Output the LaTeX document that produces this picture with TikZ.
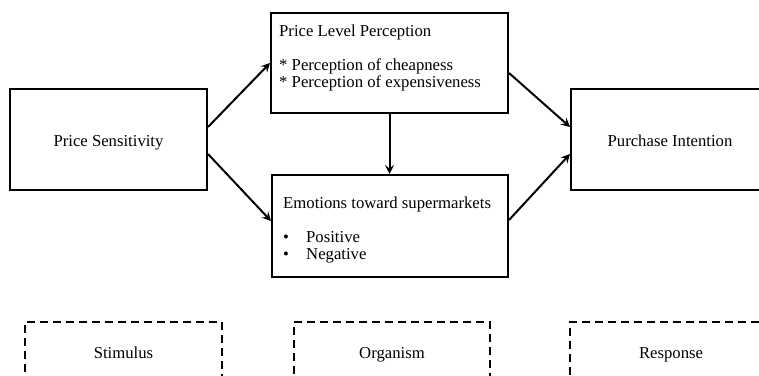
\documentclass[tikz,border=0pt]{standalone}
\usepackage{fontspec}
\setmainfont{Liberation Serif}
\usetikzlibrary{positioning}
\usetikzlibrary{arrows.meta}

\begin{document}
\begin{tikzpicture}[x=1pt,y=-1pt,
  box/.style={draw,line width=2pt,inner sep=0pt,text height=14.5pt,text depth=0pt},
  dashbox/.style={box,dash pattern=on 8pt off 5pt},
  txt/.style={inner sep=0pt,align=left},
  arr/.style={line width=2pt,-{Stealth[length=9pt,width=9pt,inset=3.5pt]}},
  font=\fontsize{16.7}{17}\selectfont]
 \useasboundingbox (0,0) rectangle (759,375);
 \clip (0,0) rectangle (759,375);
 % model boxes
 \node[box,minimum width=197pt,minimum height=101pt] (ps) at (108.5,139.5) {Price Sensitivity};
 \node[box,minimum width=237pt,minimum height=100pt] (plp) at (389.5,63) {};
 \node[box,minimum width=236pt,minimum height=102pt] (emo) at (390,226) {};
 \node[box,minimum width=198pt,minimum height=101pt] (pi) at (670,139.5) {Purchase Intention};
 \node[txt,anchor=north west] (plptxt) at (279,24.5) {Price Level Perception\\ \\* Perception of cheapness\\* Perception of expensiveness};
 \node[txt,anchor=north west] (emotxt) at (283,196.5) {Emotions toward supermarkets\\ \\\makebox[23pt][l]{\textbullet}Positive\\\makebox[23pt][l]{\textbullet}Negative};
 % S-O-R boxes
 \node[dashbox,minimum width=197pt,minimum height=58pt] (stim) at (123.5,351) {Stimulus};
 \node[dashbox,minimum width=196pt,minimum height=58pt] (org) at (392,351) {Organism};
 \node[dashbox,minimum width=202pt,minimum height=58pt] (resp) at (671,351) {Response};
 % arrows
 \draw[arr] ([yshift=12.5pt]ps.east) -- (plp.west);
 \draw[arr] ([yshift=-14.5pt]ps.east) -- ([yshift=5pt]emo.west);
 \draw[arr] (plp.south) -- (plp.south |- emo.north);
 \draw[arr] ([yshift=-10pt]plp.east) -- ([yshift=12.5pt]pi.west);
 \draw[arr] ([yshift=6pt]emo.east) -- ([yshift=-14.5pt]pi.west);
\end{tikzpicture}
\end{document}
